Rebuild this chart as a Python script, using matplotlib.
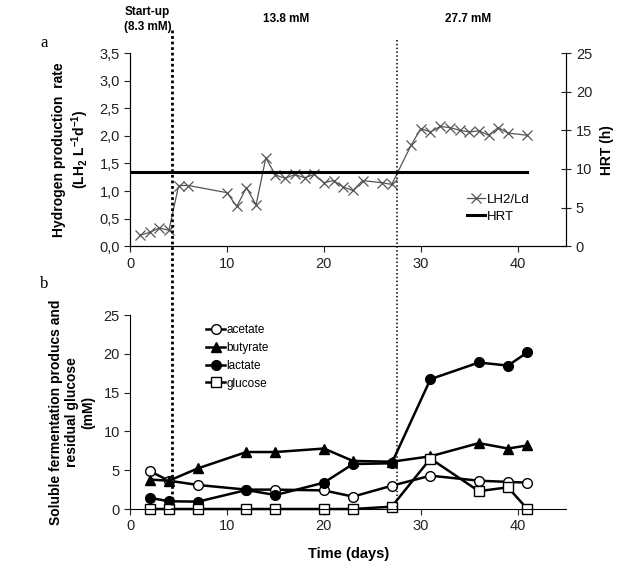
import numpy as np
import matplotlib
matplotlib.use('Agg')
from matplotlib import pyplot as plt
from matplotlib import transforms
from matplotlib.lines import Line2D
from matplotlib.ticker import FuncFormatter

# panel a: hydrogen production rate
h2_days = [1, 2, 3, 4, 5, 6, 10, 11, 12, 13, 14, 15, 16, 17, 18, 19, 20, 21, 22, 23,
           24, 26, 27, 29, 30, 31, 32, 33, 34, 35, 36, 37, 38, 39, 41]
h2_rate = [0.20, 0.25, 0.33, 0.29, 1.10, 1.10, 0.97, 0.72, 1.06, 0.75, 1.60, 1.29, 1.23, 1.30,
           1.24, 1.30, 1.15, 1.19, 1.07, 1.01, 1.19, 1.15, 1.12, 1.83, 2.13, 2.07, 2.17, 2.15,
           2.10, 2.07, 2.09, 2.01, 2.15, 2.05, 2.01]
hrt_days = [0, 41]
hrt_value = [9.6, 9.6]

# panel b: soluble products
sfp_days = [2, 4, 7, 12, 15, 20, 23, 27, 31, 36, 39, 41]
acetate = [4.9, 3.65, 3.1, 2.5, 2.5, 2.4, 1.6, 3.0, 4.3, 3.65, 3.5, 3.4]
butyrate = [3.8, 3.65, 5.25, 7.35, 7.35, 7.8, 6.2, 6.1, 6.8, 8.5, 7.8, 8.2]
lactate = [1.45, 1.0, 0.95, 2.45, 1.8, 3.4, 5.8, 5.9, 16.75, 18.9, 18.5, 20.2]
glucose = [0, 0, 0, 0, 0, 0, 0, 0.3, 6.5, 2.3, 2.8, 0]

phase_changes = [4.3, 27.5]
phase_labels = ['Start-up\n(8.3 mM)', '13.8 mM', '27.7 mM']
phase_label_x = [1.8, 16.1, 34.9]

plt.rcParams['font.family'] = ['Liberation Sans', 'DejaVu Sans']
plt.rcParams['mathtext.fontset'] = 'custom'
plt.rcParams['mathtext.rm'] = 'Liberation Sans'
plt.rcParams['mathtext.bf'] = 'Liberation Sans:bold'

fig = plt.figure(figsize=(6.2, 5.7), dpi=100)
ax_a = fig.add_axes([0.21, 0.568, 0.703, 0.339])
ax_hrt = ax_a.twinx()
ax_b = fig.add_axes([0.21, 0.107, 0.703, 0.340])

comma = FuncFormatter(lambda v, p: f'{v:.1f}'.replace('.', ','))

# panel a
ax_a.plot(h2_days, h2_rate, color='#555555', lw=0.9, marker='x', ms=7, mew=0.9,
          label='LH2/Ld')
ax_hrt.plot(hrt_days, hrt_value, color='black', lw=2.2, label='HRT')
ax_a.set_xlim(0, 45)
ax_a.set_ylim(0, 3.5)
ax_a.set_yticks(np.arange(0, 3.51, 0.5))
ax_a.yaxis.set_major_formatter(comma)
ax_a.set_xticks(range(0, 41, 10))
ax_hrt.set_ylim(0, 25)
ax_hrt.set_yticks(range(0, 26, 5))
for ax in (ax_a, ax_hrt):
    ax.spines['top'].set_visible(False)
    ax.tick_params(labelsize=10.5, colors='#222222', length=4)
ax_hrt.tick_params(axis='y', direction='inout', length=7)
ax_a.set_ylabel('Hydrogen production  rate\n' + r'$\mathbf{(LH_2\ L^{-1}d^{-1})}$',
                fontsize=10, fontweight='bold', labelpad=6)
ax_hrt.set_ylabel('HRT (h)', fontsize=10, fontweight='bold', labelpad=6)

h1, l1 = ax_a.get_legend_handles_labels()
h2, l2 = ax_hrt.get_legend_handles_labels()
leg = ax_hrt.legend(h1 + h2, l1 + l2, loc='upper left', bbox_to_anchor=(0.76, 0.30),
                    frameon=False, fontsize=9.5, handlelength=1.4, handletextpad=0.1,
                    labelspacing=0.35, borderaxespad=0)

# panel b
series = [(acetate, 'o', 'white', 'acetate'),
          (butyrate, '^', 'black', 'butyrate'),
          (lactate, 'o', 'black', 'lactate'),
          (glucose, 's', 'white', 'glucose')]
for vals, mk, fc, name in series:
    ax_b.plot(sfp_days, vals, color='black', lw=1.8, marker=mk, ms=7,
              mfc=fc, mec='black', mew=1.0, label=name, clip_on=False)
ax_b.set_xlim(0, 45)
ax_b.set_ylim(0, 25)
ax_b.set_xticks(range(0, 41, 10))
ax_b.set_yticks(range(0, 26, 5))
ax_b.spines['top'].set_visible(False)
ax_b.spines['right'].set_visible(False)
ax_b.tick_params(labelsize=10.5, colors='#222222', length=4)
ax_b.set_ylabel('Soluble fermentation producs and\nresidual glucose\n(mM)',
                fontsize=10, fontweight='bold', labelpad=6)
ax_b.set_xlabel('Time (days)', fontsize=10.5, fontweight='bold', labelpad=10)
ax_b.legend(loc='upper left', bbox_to_anchor=(0.15, 1.01), frameon=False,
            fontsize=8.5, handlelength=1.6, handletextpad=0.1, labelspacing=0.5)

# phase change lines across both panels
trans = transforms.blended_transform_factory(ax_a.transData, fig.transFigure)
fig.add_artist(Line2D([phase_changes[0]] * 2, [0.947, 0.107], transform=trans,
                      color='black', lw=2.0, ls=(0, (1, 1))))
fig.add_artist(Line2D([phase_changes[1]] * 2, [0.930, 0.107], transform=trans,
                      color='black', lw=1.1, ls=(0, (1, 1.5))))
for x, lab in zip(phase_label_x, phase_labels):
    fig.text(x, 0.966, lab, transform=trans, ha='center', va='center',
             fontsize=8.5, fontweight='bold', linespacing=1.35)

fig.text(0.065, 0.918, 'a', family='Liberation Serif', fontsize=12)
fig.text(0.065, 0.494, 'b', family='Liberation Serif', fontsize=12)

fig.savefig('out.png', dpi=100)
